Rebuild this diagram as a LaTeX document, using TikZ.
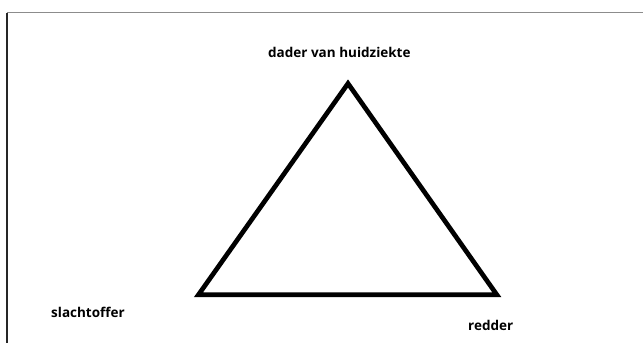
\documentclass[tikz,border=0pt]{standalone}
\usepackage{fontspec}
\setmainfont{Open Sans}
\begin{document}
\begin{tikzpicture}[x=1pt,y=-1pt,
  lbl/.style={anchor=base west,inner sep=0pt,font=\fontsize{13.5}{16}\selectfont\bfseries},
  tri/.style={line width=4.7pt,black}]
\useasboundingbox (0,0) rectangle (643,343);
\fill[white] (0,0) rectangle (643,343);
\coordinate (tl) at (7,12.5);
\coordinate (tr) at (643,12.5);
\coordinate (bl) at (7,343);
\draw[line width=1.5pt,gray!90] (tl) -- (tr);
\draw[line width=1.5pt,black!85] (tl) -- (bl);
\coordinate (apex) at (348,83.5);
\coordinate (left) at (198.5,294.7);
\coordinate (right) at (496.8,294.7);
\draw[tri] (apex) -- (left) -- (right) -- cycle;
\node[lbl] (dader) at (268,57) {dader van huidziekte};
\node[lbl] (slacht) at (51,317) {slachtoffer};
\node[lbl] (redder) at (468,330) {redder};
\end{tikzpicture}
\end{document}
